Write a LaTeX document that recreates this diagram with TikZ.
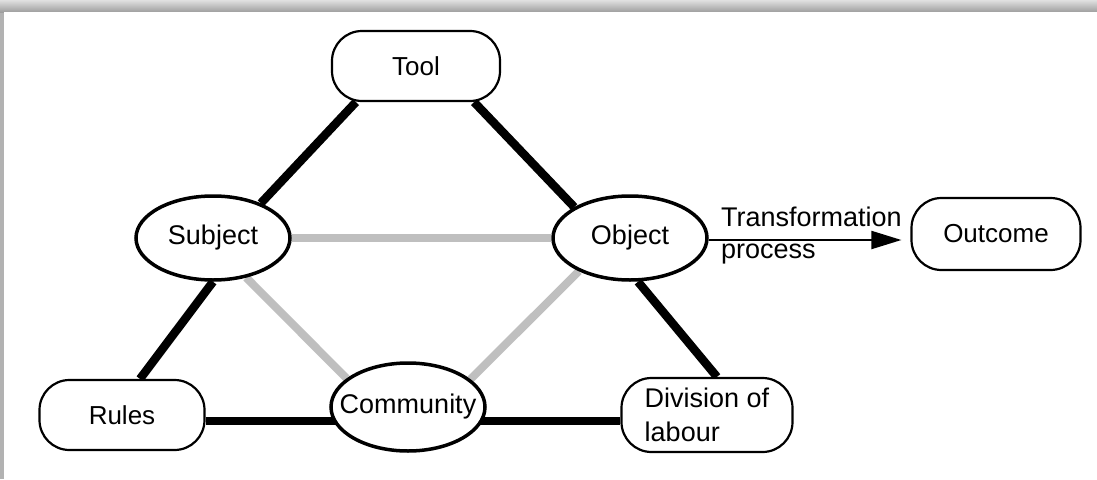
\documentclass[tikz,border=0pt]{standalone}
\usepackage{fontspec}
\setmainfont{Liberation Sans}
\usetikzlibrary{shapes.geometric,arrows.meta,backgrounds}
\begin{document}
\begin{tikzpicture}[x=1pt,y=-1pt,
  box/.style={draw, line width=2.2pt, rounded corners=30pt, fill=white, font=\fontsize{26}{34}\selectfont, inner sep=0pt},
  oval/.style={draw, ellipse, line width=3.5pt, fill=white, minimum width=154pt, minimum height=84pt, inner sep=0pt},
  txt/.style={font=\fontsize{27}{34}\selectfont, inner sep=0pt},
  strong/.style={line width=8.5pt, black},
  weak/.style={line width=8pt, black!25},
  flow/.style={line width=2pt, -{Triangle[length=30pt,width=18pt]}, shorten >=9pt}]
\useasboundingbox (0,0) rectangle (1097,479);
\begin{pgfonlayer}{background}
  \fill[black!30] (0,0) rectangle (1097,479);
  \shade[top color=black!12, bottom color=black!38] (0,0) rectangle (1097,12);
  \fill[white] (4,12) rectangle (1097,479);
\end{pgfonlayer}

\node[box, minimum width=168pt, minimum height=70pt] (tool) at (416,66) {Tool};
\node[oval, label={[txt]center:Subject}] (subject) at (213,238) {};
\node[oval, label={[txt]center:Object}] (object) at (630,238) {};
\node[oval, minimum height=88pt, label={[txt]center:Community}] (community) at (408,407) {};
\node[box, minimum width=165pt, minimum height=70pt] (rules) at (122,415) {Rules};
\node[box, minimum width=171pt, minimum height=74pt, align=left, font=\fontsize{27}{34}\selectfont] (division) at (707,415) {Division of\\labour};
\node[box, minimum width=169pt, minimum height=72pt] (outcome) at (996,234) {Outcome};

\node[txt, anchor=base west] (trans) at (721,226) {Transformation};
\node[txt, anchor=base west] (proc) at (721,258) {process};

\draw[flow] ([yshift=-2pt]object.east) -- ([yshift=-2pt]object.east -| outcome.west);

\begin{pgfonlayer}{background}
  \draw[weak] (subject) -- (object);
  \draw[weak] (subject.-50) -- (community.155);
  \draw[weak] (object.213) -- (community.24);
  \draw[strong] ([xshift=25pt]tool.south west) -- (subject.36);
  \draw[strong] ([xshift=-27pt]tool.south east) -- (object.151);
  \draw[strong] (subject.south) -- ([xshift=18pt]rules.north);
  \draw[strong] ([xshift=8pt]object.south) -- ([xshift=10pt]division.north);
  \draw[strong] ([yshift=-6pt]rules.east) -- ([yshift=-6pt]division.west);
\end{pgfonlayer}
\end{tikzpicture}
\end{document}
